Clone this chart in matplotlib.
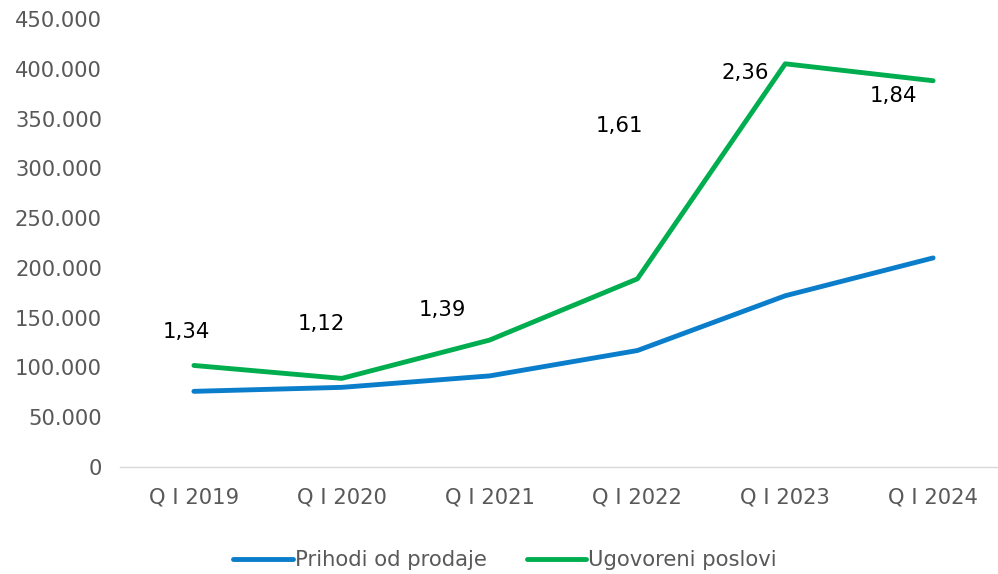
import matplotlib
matplotlib.use("Agg")
import matplotlib.pyplot as plt
from matplotlib.ticker import FuncFormatter

categories = ["Q I 2019", "Q I 2020", "Q I 2021", "Q I 2022", "Q I 2023", "Q I 2024"]
prihodi = [76000, 80000, 91500, 117000, 172000, 210000]
ugovoreni = [102000, 89000, 127500, 189000, 405000, 388000]
ratio_labels = ["1,34", "1,12", "1,39", "1,61", "2,36", "1,84"]
label_y = [136000, 144000, 158000, 343000, 396000, 373000]
label_dx = [-0.05, -0.14, -0.32, -0.12, -0.27, -0.27]

plt.rcParams['font.family'] = ['DejaVu Sans']
fig = plt.figure(figsize=(9.98, 5.74), dpi=100)
ax = fig.add_axes([120/998, 107/574, 887/998, 448/574])

x = list(range(len(categories)))
ax.plot(x, prihodi, color='#0A7DCB', lw=3.5, solid_capstyle='round', label='Prihodi od prodaje')
ax.plot(x, ugovoreni, color='#00AE4F', lw=3.5, solid_capstyle='round', label='Ugovoreni poslovi')

for i, t in enumerate(ratio_labels):
    ax.text(x[i] + label_dx[i], label_y[i], t, ha='center', va='center', fontsize=15.3, color='black')

ax.set_xlim(-0.5, 5.5)
ax.set_ylim(0, 450000)
ax.set_yticks(range(0, 450001, 50000))
ax.yaxis.set_major_formatter(FuncFormatter(lambda v, p: '0' if v == 0 else f"{int(v):,}".replace(',', '.')))
ax.set_xticks(x)
ax.set_xticklabels(categories)
ax.tick_params(axis='both', length=0, labelsize=15.2, colors='#595959', pad=15)
ax.tick_params(axis='y', pad=13)
for s in ['top', 'right', 'left']:
    ax.spines[s].set_visible(False)
ax.spines['bottom'].set_color('#D9D9D9')
ax.spines['bottom'].set_linewidth(1)

leg = fig.legend(loc='center', bbox_to_anchor=(505/998, 1 - 560/574), ncol=2, frameon=False,
                 fontsize=15.2, handlelength=2.8, handletextpad=0.1, columnspacing=1.9)
for t in leg.get_texts():
    t.set_color('#595959')

fig.savefig('out.png', dpi=100)
